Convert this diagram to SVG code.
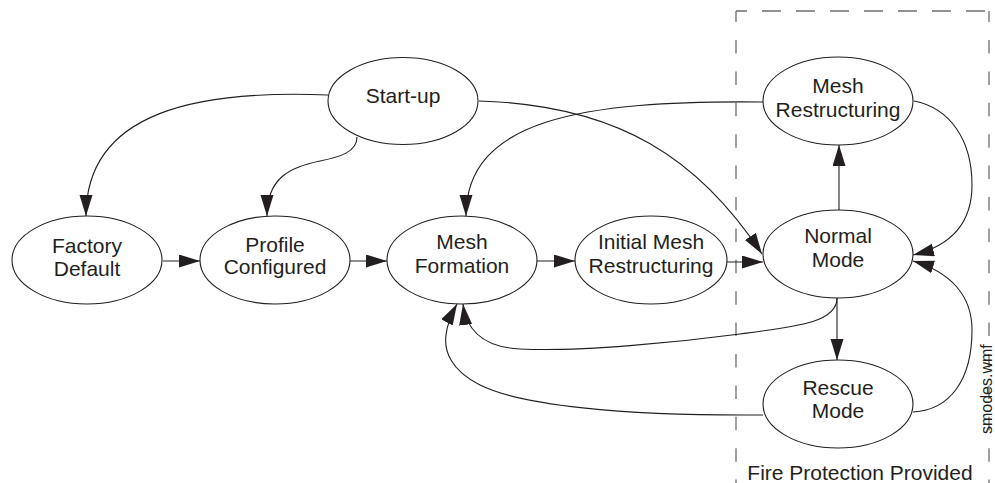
<svg xmlns="http://www.w3.org/2000/svg" width="995" height="483" viewBox="0 0 995 483">
<style>
.node ellipse{fill:#fff;stroke:#231f20;stroke-width:1.1}
.node text,.lbl{font-family:"Liberation Sans",Arial,sans-serif;font-size:21px;fill:#231f20;text-anchor:middle}
.conn path{fill:none;stroke:#231f20;stroke-width:1.1}
.dash{fill:none;stroke:#6d6d6d;stroke-width:1.3}
</style>
<defs>
<marker id="ah" markerUnits="userSpaceOnUse" markerWidth="24" markerHeight="14" refX="21" refY="6.5" orient="auto">
<path d="M0,0 L21,6.5 L0,13 z" fill="#231f20"/>
</marker>
</defs>
<rect width="995" height="483" fill="#fff"/>
<g id="zone">
<line class="dash" x1="736" y1="11" x2="989" y2="11" stroke-dasharray="19 15" stroke-dashoffset="8"/>
<line class="dash" x1="736" y1="11" x2="736" y2="490" stroke-dasharray="13.5 17.9" stroke-dashoffset="2.4"/>
<line class="dash" x1="989" y1="11" x2="989" y2="490" stroke-dasharray="13.5 17.9" stroke-dashoffset="2.4"/>
<text class="lbl" x="860" y="480">Fire Protection Provided</text>
</g>
<g class="conn" id="connectors">
<path d="M328,95 C200,90 86,110 86,216" marker-end="url(#ah)"/>
<path d="M357,137 C357,152 340,157 320,161 C290,167 267,178 267,216" marker-end="url(#ah)"/>
<path d="M163,261 L200,261" marker-end="url(#ah)"/>
<path d="M350,261 L387,261" marker-end="url(#ah)"/>
<path d="M537,261 L575,261" marker-end="url(#ah)"/>
<path d="M727,262 L763,262" marker-end="url(#ah)"/>
<path d="M479,101 C620,105 700,160 762,254" marker-end="url(#ah)"/>
<path d="M763,102 C580,100 466,120 466,216" marker-end="url(#ah)"/>
<path d="M839,210 L839,145" marker-end="url(#ah)"/>
<path d="M914,101 C950,108 972,140 972,185 C972,225 950,246 913,255" marker-end="url(#ah)"/>
<path d="M913,412 C950,410 972,380 972,330 C972,295 950,272 913,261" marker-end="url(#ah)"/>
<path d="M837,298 L837,360" marker-end="url(#ah)"/>
<path d="M837,298 C837,322 800,326 740,334 C680,342 580,352 520,349 C480,347 466,328 463,304" marker-end="url(#ah)"/>
<path d="M763,415 C620,416 520,405 480,385 C450,370 444,350 446,335 C447,325 451,315 457,304" marker-end="url(#ah)"/>
</g>
<g class="node" id="startup"><ellipse cx="403" cy="101" rx="75" ry="43.5"/><text x="403" y="103">Start-up</text></g>
<g class="node" id="factory"><ellipse cx="87" cy="260" rx="75" ry="44"/><text x="87" y="253">Factory</text><text x="87" y="276">Default</text></g>
<g class="node" id="profile"><ellipse cx="275" cy="260" rx="75" ry="44"/><text x="275" y="252">Profile</text><text x="275" y="274">Configured</text></g>
<g class="node" id="meshformation"><ellipse cx="462" cy="260" rx="75" ry="44"/><text x="462" y="249">Mesh</text><text x="462" y="273">Formation</text></g>
<g class="node" id="initialmesh"><ellipse cx="651" cy="260" rx="76" ry="44"/><text x="651" y="249">Initial Mesh</text><text x="651" y="273">Restructuring</text></g>
<g class="node" id="normal"><ellipse cx="838" cy="254" rx="75" ry="44"/><text x="838" y="243">Normal</text><text x="838" y="267">Mode</text></g>
<g class="node" id="meshrestructuring"><ellipse cx="838" cy="101" rx="75" ry="44"/><text x="838" y="93">Mesh</text><text x="838" y="117">Restructuring</text></g>
<g class="node" id="rescue"><ellipse cx="838" cy="404" rx="75" ry="44"/><text x="838" y="395">Rescue</text><text x="838" y="418">Mode</text></g>
<text transform="translate(992,434) rotate(-90)" style="font-family:'Liberation Sans',Arial,sans-serif;font-size:16px;fill:#231f20">smodes.wmf</text>
</svg>
